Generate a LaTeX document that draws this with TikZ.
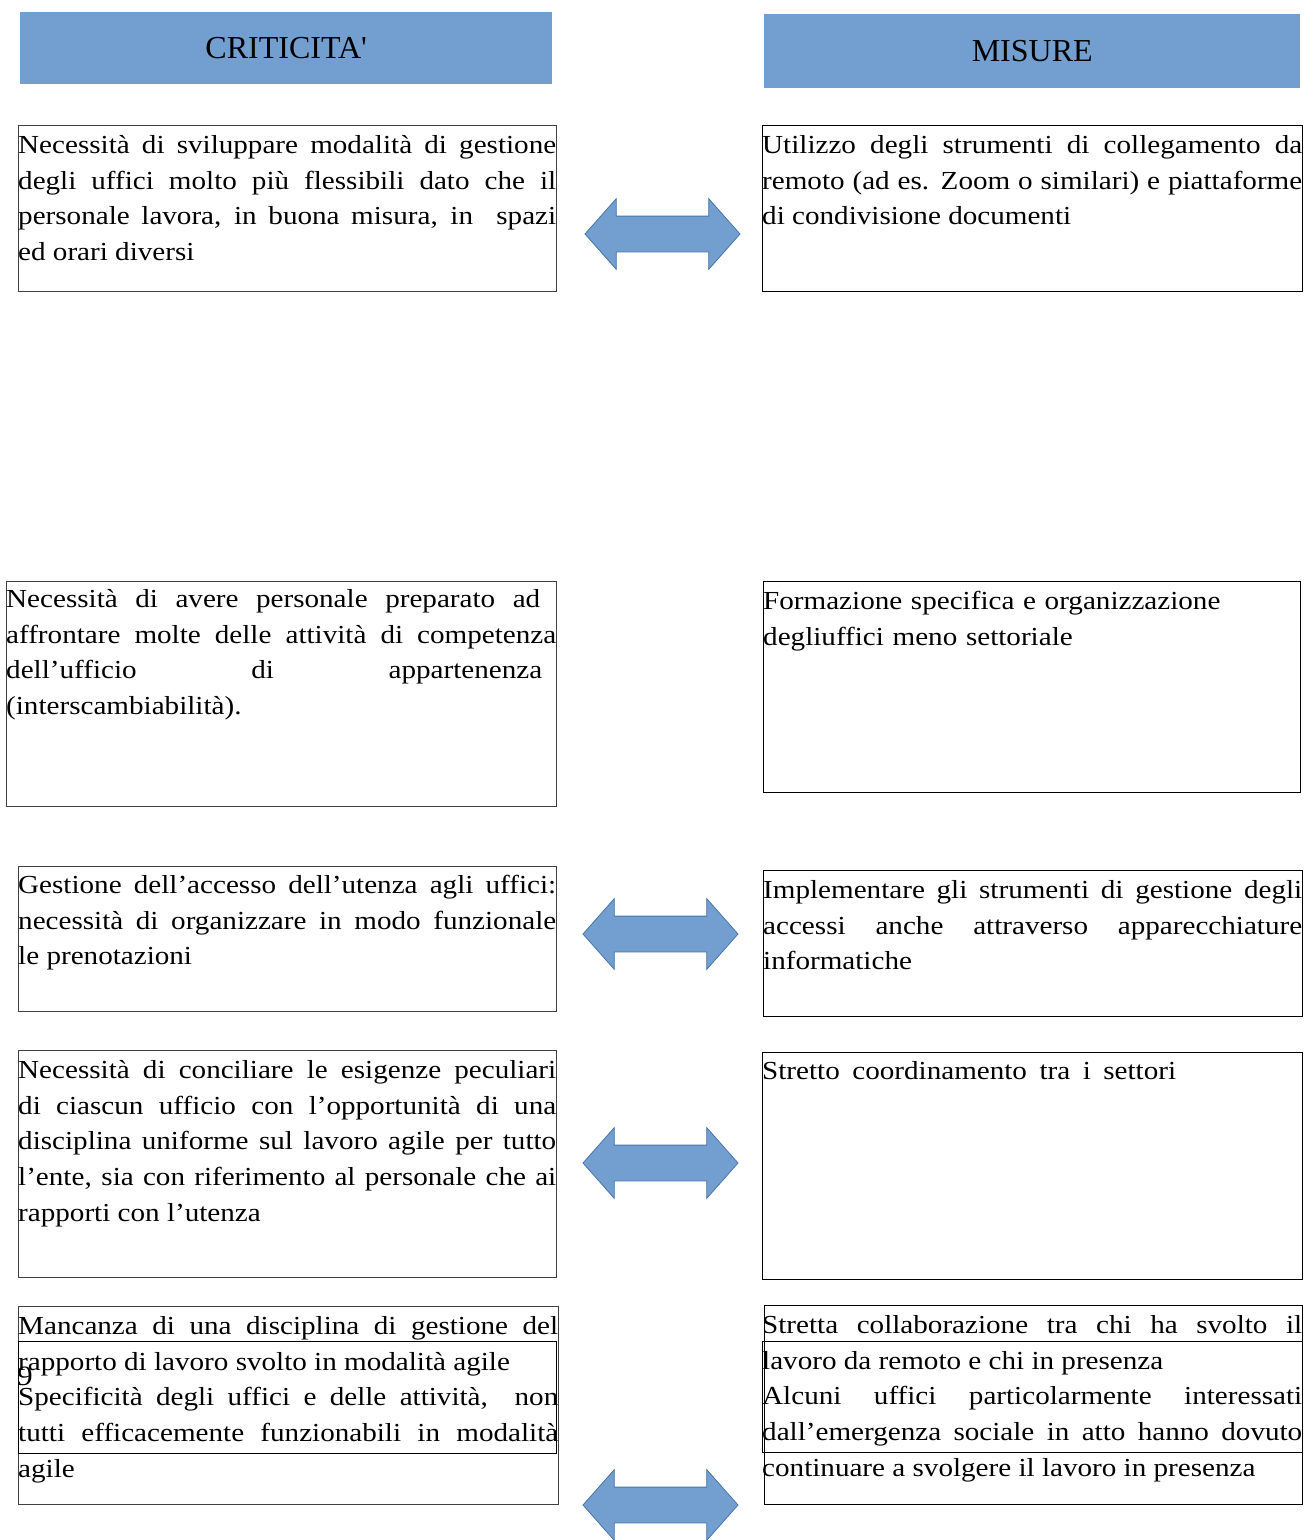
\documentclass[tikz,border=0pt]{standalone}
\usepackage{fontspec}
\setmainfont{Liberation Serif}[FakeStretch=1.12]
\newfontfamily\headface{Liberation Serif}
\usetikzlibrary{positioning,shapes.arrows}
\definecolor{BarBlue}{RGB}{114,159,207}
\definecolor{EdgeBlue}{RGB}{72,118,170}
\tikzset{
  head/.style={fill=BarBlue,anchor=north west,inner sep=0pt,
    font=\headface\fontsize{32}{38}\selectfont},
  pane/.style={draw=black!75,line width=1pt,anchor=north west,inner sep=0pt},
  note/.style={anchor=north west,inner sep=0pt,align=justify,yshift=-3pt,
    font=\fontsize{26}{35.8}\selectfont,execute at begin node=\strut},
  swap/.style={double arrow,fill=BarBlue,draw=EdgeBlue,line width=0.8pt,
    inner xsep=0pt,inner ysep=17.5pt,
    minimum height=155pt,minimum width=70pt,double arrow head extend=17.5pt,
    double arrow tip angle=97},
}

\begin{document}
\begin{tikzpicture}[x=1pt,y=-1pt]
\useasboundingbox (0,0) rectangle (1314,1540);
% headers
\node[head,minimum width=532pt,minimum height=72pt] (crit) at (20,12) {CRITICITA\textquotesingle};
\node[head,minimum width=536pt,minimum height=74pt] (mis) at (764,14) {MISURE};
% row 1
\node[pane,minimum width=538pt,minimum height=166pt] (c1) at (18,125) {};
\node[note,text width=538pt] (c1t) at (c1.north west) {Necessità di sviluppare modalità di gestione\linebreak
  degli uffici molto più flessibili dato che il\linebreak
  personale lavora, in buona misura, in\ \ spazi\linebreak
  ed orari diversi};
\node[pane,draw=black,minimum width=540pt,minimum height=166pt] (m1) at (762,125) {};
\node[note,text width=540pt] (m1t) at (m1.north west) {Utilizzo degli strumenti di collegamento da\linebreak
  remoto (ad es. Zoom o similari) e piattaforme\linebreak
  di condivisione documenti};
\node[swap] (s1) at (662.5,234) {};
% row 2
\node[pane,minimum width=550pt,minimum height=225pt] (c2) at (6,581) {};
\node[note,text width=550pt,yshift=2pt] (c2t) at (c2.north west) {Necessità di avere personale preparato ad\hspace*{16pt}\linebreak
  affrontare molte delle attività di competenza\linebreak
  dell’ufficio di appartenenza\hspace*{14pt}\linebreak
  (interscambiabilità).};
\node[pane,draw=black,minimum width=537pt,minimum height=211pt] (m2) at (763,581) {};
\node[note,text width=537pt,align=left] (m2t) at (m2.north west) {Formazione specifica e organizzazione\\
  degliuffici meno settoriale};
% row 3
\node[pane,minimum width=538pt,minimum height=145pt] (c3) at (18,866) {};
\node[note,text width=538pt,yshift=1pt] (c3t) at (c3.north west) {Gestione dell’accesso dell’utenza agli uffici:\linebreak
  necessità di organizzare in modo funzionale\linebreak
  le prenotazioni};
\node[pane,draw=black,minimum width=539pt,minimum height=146pt] (m3) at (763,870) {};
\node[note,text width=539pt] (m3t) at (m3.north west) {Implementare gli strumenti di gestione degli\linebreak
  accessi anche attraverso apparecchiature\linebreak
  informatiche};
\node[swap] (s3) at (660.5,934) {};
% row 4
\node[pane,minimum width=538pt,minimum height=227pt] (c4) at (18,1050) {};
\node[note,text width=538pt] (c4t) at (c4.north west) {Necessità di conciliare le esigenze peculiari\linebreak
  di ciascun ufficio con l’opportunità di una\linebreak
  disciplina uniforme sul lavoro agile per tutto\linebreak
  l’ente, sia con riferimento al personale che ai\linebreak
  rapporti con l’utenza};
\node[pane,draw=black,minimum width=540pt,minimum height=227pt] (m4) at (762,1052) {};
\node[note,text width=540pt,align=left,yshift=1pt] (m4t) at (m4.north west) {Stretto\hspace{12.5pt}coordinamento\hspace{12.5pt}tra\hspace{12.5pt}i\hspace{12.5pt}settori};
\node[swap] (s4) at (660.5,1163) {};
% row 5
\node[pane,minimum width=540pt,minimum height=198pt] (c5) at (18,1306) {};
\node[pane,draw=black,minimum width=538pt,minimum height=112pt] (c5b) at (18,1341) {};
\node[note,text width=540pt] (c5t) at (c5.north west) {Mancanza di una disciplina di gestione del\linebreak
  rapporto di lavoro svolto in modalità agile\\
  Specificità degli uffici e delle attività,\ \ non\linebreak
  tutti efficacemente funzionabili in modalità\linebreak
  agile};
\node[anchor=base west,inner sep=0pt,font=\fontsize{28}{30}\selectfont] (pg) at (17,1385) {9};
\node[pane,draw=black,minimum width=538pt,minimum height=199pt] (m5) at (764,1305) {};
\node[pane,draw=black,minimum width=540pt,minimum height=111pt] (m5b) at (762,1341) {};
\node[note,text width=540pt] (m5t) at (762,1305) {Stretta collaborazione tra chi ha svolto il\linebreak
  lavoro da remoto e chi in presenza\\
  Alcuni uffici particolarmente interessati\linebreak
  dall’emergenza sociale in atto hanno dovuto\linebreak
  continuare a svolgere il lavoro in presenza};
\node[swap] (s5) at (660.5,1505) {};
\end{tikzpicture}
\end{document}
